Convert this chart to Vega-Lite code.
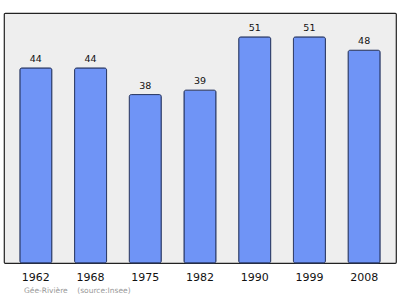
{
  "$schema": "https://vega.github.io/schema/vega-lite/v6.json",
  "autosize": "none",
  "width": 392,
  "height": 250,
  "padding": {"left": 4, "top": 13, "right": 4, "bottom": 36},
  "background": "white",
  "config": {
    "view": {"fill": "#eeeeee", "stroke": "#222222", "strokeWidth": 1.2, "cornerRadius": 1},
    "font": "DejaVu Sans"
  },
  "title": {
    "text": "Gée-Rivière\u00a0\u00a0\u00a0\u00a0(source:Insee)",
    "orient": "bottom",
    "anchor": "start",
    "offset": 5,
    "dx": 20,
    "fontSize": 7.5,
    "fontWeight": "normal",
    "color": "#999999",
    "font": "DejaVu Sans"
  },
  "data": {
    "values": [
      {"annee": "1962", "population": 44},
      {"annee": "1968", "population": 44},
      {"annee": "1975", "population": 38},
      {"annee": "1982", "population": 39},
      {"annee": "1990", "population": 51},
      {"annee": "1999", "population": 51},
      {"annee": "2008", "population": 48}
    ]
  },
  "encoding": {
    "x": {
      "field": "annee",
      "type": "ordinal",
      "sort": null,
      "scale": {"paddingInner": 0.415, "paddingOuter": 0.29},
      "axis": {
        "title": null,
        "ticks": false,
        "domain": false,
        "labelAngle": 0,
        "labelFontSize": 11,
        "labelColor": "#111111",
        "labelPadding": 8,
        "labelFont": "DejaVu Sans"
      }
    },
    "y": {
      "field": "population",
      "type": "quantitative",
      "scale": {"domain": [0, 56.4], "nice": false},
      "axis": null
    }
  },
  "layer": [
    {
      "mark": {"type": "bar", "fill": "#6f94f6", "stroke": "#2b3a66", "strokeWidth": 1, "cornerRadius": 2}
    },
    {
      "mark": {"type": "text", "baseline": "bottom", "dy": -4, "fontSize": 9.5, "color": "#111111"},
      "encoding": {"text": {"field": "population", "type": "quantitative"}}
    }
  ]
}
